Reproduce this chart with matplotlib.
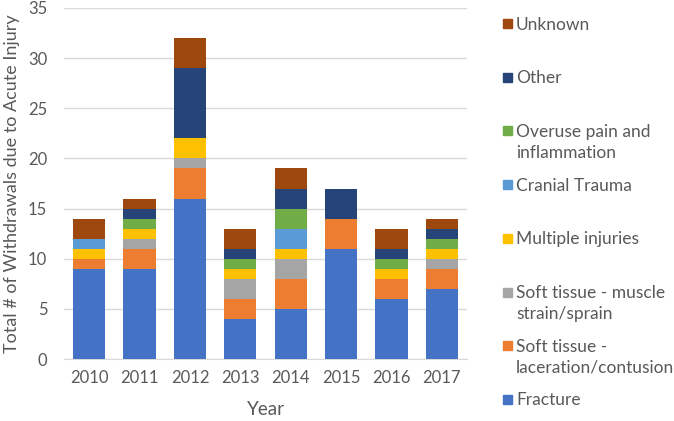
import matplotlib
matplotlib.use("Agg")
import matplotlib.pyplot as plt
from matplotlib.patches import Rectangle
import numpy as np

years = ["2010", "2011", "2012", "2013", "2014", "2015", "2016", "2017"]
series_names = ["Fracture", "Soft tissue -\nlaceration/contusion", "Soft tissue - muscle\nstrain/sprain",
                "Multiple injuries", "Cranial Trauma", "Overuse pain and\ninflammation", "Other", "Unknown"]
fracture = [9, 9, 16, 4, 5, 11, 6, 7]
laceration = [1, 2, 3, 2, 3, 3, 2, 2]
muscle = [0, 1, 1, 2, 2, 0, 0, 1]
multiple = [1, 1, 2, 1, 1, 0, 1, 1]
cranial = [1, 0, 0, 0, 2, 0, 0, 0]
overuse = [0, 1, 0, 1, 2, 0, 1, 1]
other = [0, 1, 7, 1, 2, 3, 1, 1]
unknown = [2, 1, 3, 2, 2, 0, 2, 1]
colors = ["#4472C4", "#ED7D31", "#A5A5A5", "#FFC000", "#5B9BD5", "#70AD47", "#264478", "#9E480E"]
data = [fracture, laceration, muscle, multiple, cranial, overuse, other, unknown]

plt.rcParams['font.family'] = ['Lato', 'DejaVu Sans']
txt = "#595959"
W, H = 674, 421
fig = plt.figure(figsize=(W/100, H/100), dpi=100)
ax = fig.add_axes([64/W, 1-359/H, (467-64)/W, (359-8)/H])
x = np.arange(len(years))
bottom = np.zeros(len(years))
for vals, c in zip(data, colors):
    ax.bar(x, vals, bottom=bottom, width=0.64, color=c, zorder=3)
    bottom += np.array(vals)
ax.set_xlim(-0.5, len(years)-0.5)
ax.set_ylim(0, 35)
ax.set_yticks(range(0, 36, 5))
ax.set_xticks(x)
ax.set_xticklabels(years)
ax.grid(axis='y', color="#D9D9D9", linewidth=1, zorder=0)
for s in ["top", "right", "left"]:
    ax.spines[s].set_visible(False)
ax.spines["bottom"].set_color("#D9D9D9")
ax.tick_params(axis='both', length=0, labelsize=12, colors=txt)
ax.tick_params(axis='y', pad=12)
ax.tick_params(axis='x', pad=8)
ax.set_xlabel("Year", fontsize=13.5, color=txt, labelpad=11)
ax.set_ylabel("Total # of Withdrawals due to Acute Injury", fontsize=13, color=txt, labelpad=6)

# legend (reverse order, top = Unknown)
y0 = 24
step = 53.7
for i, (name, c) in enumerate(zip(series_names[::-1], colors[::-1])):
    yy = y0 + i*step
    fig.patches.append(Rectangle((503/W, 1-(yy+4)/H), 9/W, 9/H, transform=fig.transFigure,
                                 color=c, figure=fig))
    fig.text(516/W, 1-(yy-7.5)/H, name, fontsize=12.5, color=txt, va='top', ha='left', linespacing=1.4)

fig.savefig("out.png", dpi=100)
